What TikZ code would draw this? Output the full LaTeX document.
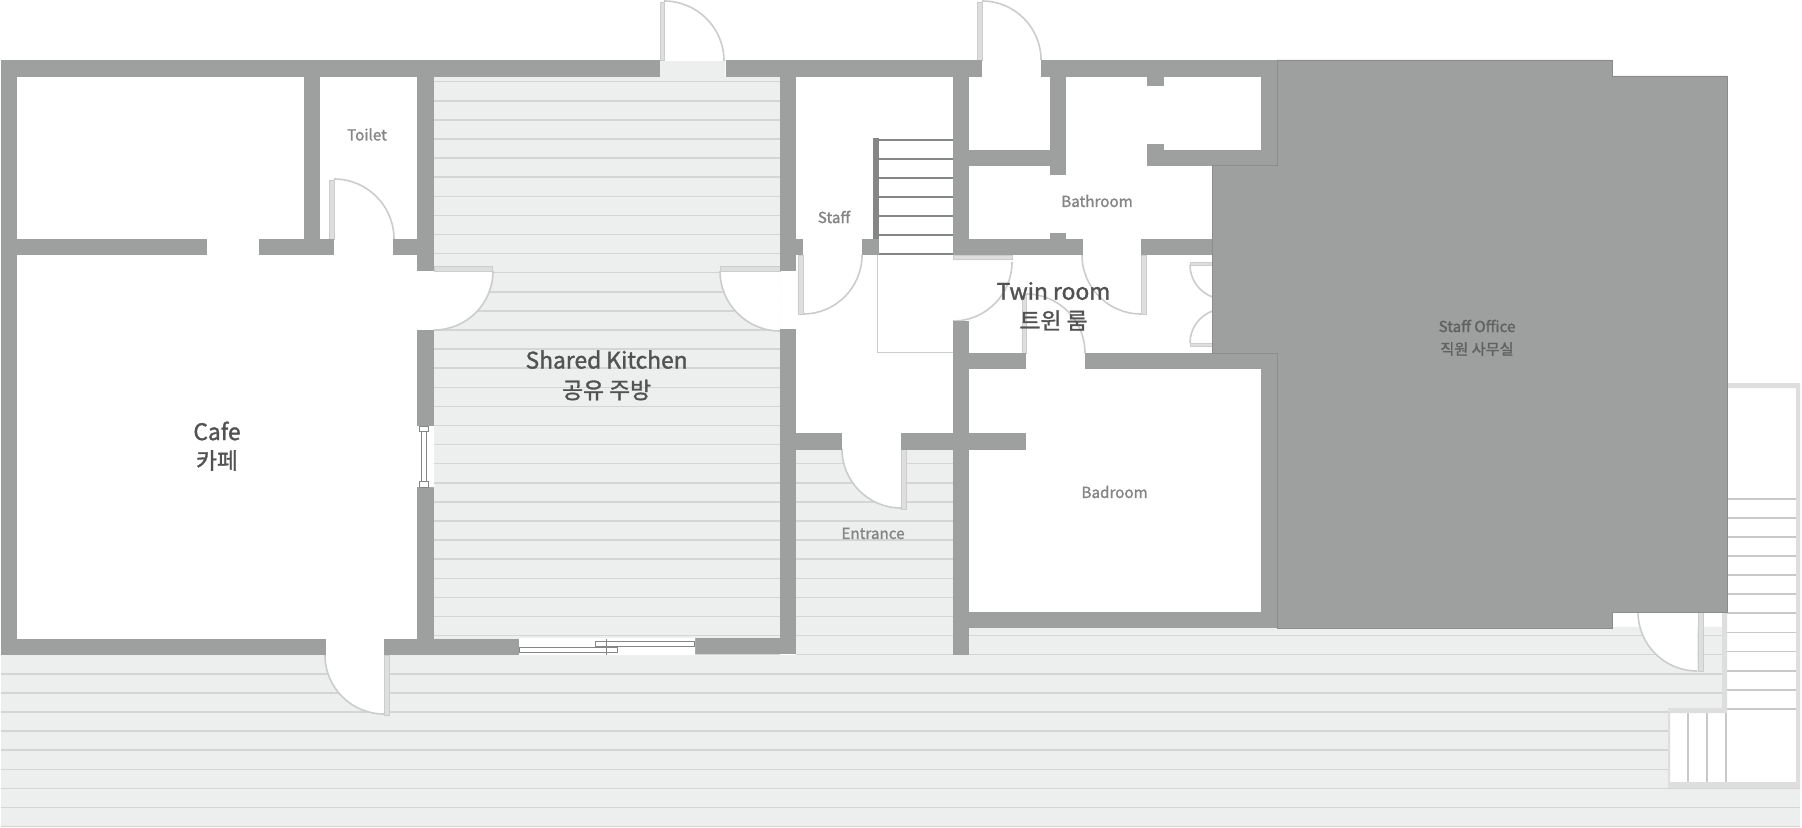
\documentclass[tikz,border=0pt]{standalone}
\usepackage{xcolor}
\usepackage{fontspec}
\setmainfont{Noto Sans CJK KR}[RawFeature={embolden=1.4}]
\definecolor{wallgray}{HTML}{9EA09F}
\definecolor{floorgray}{HTML}{EDEFEE}
\definecolor{plankgray}{HTML}{D4D6D5}
\definecolor{stairgray}{HTML}{C8CAC9}
\definecolor{leafgray}{HTML}{DDDEDD}
\definecolor{swinggray}{HTML}{CBCDCC}
\definecolor{treadgray}{HTML}{858786}
\begin{document}
\begin{tikzpicture}[x=0.5pt,y=0.5pt,yscale=-1]
	\tikzstyle{wall}=[fill=wallgray]
	\tikzstyle{leaf}=[fill=leafgray,draw=swinggray,line width=.2pt]
	\tikzstyle{swing}=[draw=swinggray,line width=.8pt]
	\tikzstyle{plank}=[draw=plankgray,line width=.75pt]
	\tikzstyle{stairline}=[draw=stairgray,line width=.9pt]
	\tikzstyle{tread}=[draw=treadgray,line width=1pt]
	\tikzstyle{frame}=[draw=treadgray,line width=.5pt,fill=white]
	\tikzstyle{biglabel}=[inner sep=0pt,text=black!68,font=\fontsize{11.4}{14}\selectfont]
	\tikzstyle{smalllabel}=[inner sep=0pt,text=black!48,font=\fontsize{7.6}{10}\selectfont]
	\useasboundingbox (0,0) rectangle (1802,828);
	\fill[white] (0,0) rectangle (1802,828);
	% decking
	\begin{scope}
		\clip (434,77) rectangle (780,655) (660,60) rectangle (725,77) (796,449) rectangle (953,655)
			(969,627) rectangle (1722,655) (1,655) rectangle (1722,708) (1,708) rectangle (1668,788) (1,788) rectangle (1800,827);
		\fill[floorgray] (0,0) rectangle (1802,828);
		\foreach \k in {0,...,39}
			\draw[plank] (0,81.7+19.1*\k) -- (1802,81.7+19.1*\k);
	\end{scope}
	% outside stairs
	\fill[white] (1670,713) rectangle (1796,782) (1727,388) rectangle (1796,782);
	\foreach \k in {0,...,11}
		\draw[stairline] (1722,498.7+19.1*\k) -- (1796,498.7+19.1*\k);
	\foreach \x in {1688,1707,1726}
		\draw[stairline] (\x,713) -- (\x,782);
	\fill[leafgray] (1727,383) rectangle (1800,388) (1796,383) rectangle (1800,788) (1668,782) rectangle (1800,788)
		(1668,708) rectangle (1727,713) (1668,708) rectangle (1670,788) (1722,612) rectangle (1727,713);
	% door swings
	\foreach \cx/\cy/\sa/\ea/\r in {664/61/-90/0/60,334/239/-90/0/60,434/271/0/90/59,780/271/90/180/60,803/255/0/90/59,
		953/262/0/90/59,1141/255/90/180/59,1026/353/-90/0/59,384/655/90/180/59,901/449/90/180/59,1697/612/90/180/59,
		982/60/-90/0/59,1224/265/180/110/34,1224/343/180/250/34} {
		\fill[white] (\cx,\cy) -- ++(\sa:\r) arc[start angle=\sa,end angle=\ea,radius=\r] -- cycle;
		\draw[swing] (\cx,\cy) ++(\sa:\r) arc[start angle=\sa,end angle=\ea,radius=\r];
	}
	\fill[white] (982,60) rectangle (1041,77);
	% door leaves
	\foreach \xa/\ya/\xb/\yb in {660/2/664/60,329/180/334/239,434/266/492/271,720/266/780/271,798/255/803/314,
		953/255/1012/259.5,1141/255/1146/314,1022/295/1026/353,384/655/389/715,901/449/906/509,1698/612/1703/671,
		977/2/982/60,1190/262/1212/265,1190/343/1212/346}
		\filldraw[leaf] (\xa,\ya) rectangle (\xb,\yb);
	% inside stairs
	\draw[draw=swinggray,line width=.5pt] (877.4,255) -- (877.4,352.7) -- (953,352.7);
	\fill[treadgray] (873,138) rectangle (879,239);
	\foreach \y in {140,158.7,177.7,196.7,216,235,254}
		\draw[tread] (879,\y) -- (953,\y);
	% walls
	\foreach \xa/\ya/\xb/\yb in {1/60/660/77,725.5/60/982/77,1040.6/60/1277/77,%top
		1/60/17/655,1/639/325.5/655,384/639/519/655,695/638/796/654,%outer
		304/77/320/239,17/239/207/255,259/239/334/255,393/239/417/255,%cafe and toilet
		417/60/434/271,417/330/434/426,417/487/434/655,%kitchen left
		780/60/796/271,780/329/796/654,796/239/803/255,862/239/879/255,%kitchen right
		953/60/969/255,953/321/969/655,969/150/1050/165.7,1050/77/1066/175,1050/233/1066/239,%bathroom
		969/239/1083/255,1141/239/1212/255,1147/77/1164/85.7,1147/144/1164/165.7,1164/150/1277/165.7,1261/77/1277/165.7,%
		969/353/1026/369,1085/353/1277/369,1261/353/1277/627.6,969/612/1277/627.6,%badroom
		796/433/842/449.5,901/433/1026/449.5}%entrance
		\fill[wall] (\xa,\ya) rectangle (\xb,\yb);
	\filldraw[wall,draw=black!45,line width=.25pt] (1277,60) -- (1612,60) -- (1612,76) -- (1727,76) -- (1727,612) -- (1612.7,612) -- (1612.7,628) -- (1277,628) -- (1277,353) -- (1212,353) -- (1212,165.7) -- (1277,165.7) -- cycle;
	% windows
	\fill[white] (519,638) rectangle (695,655) (417.5,426) rectangle (434,487);
	\filldraw[frame] (519,647.3) rectangle (617.7,652.3);
	\filldraw[frame] (595.3,641.3) rectangle (694.3,646.7);
	\draw[draw=treadgray,line width=.4pt] (606.7,639) -- (606.7,655);
	\filldraw[frame] (421.3,431) rectangle (426.3,482);
	\filldraw[frame] (419.3,426) rectangle (428.7,431);
	\filldraw[frame] (419.3,481.7) rectangle (428.7,487);
	% labels
	\node[smalllabel] (toilet) at (367,134.5) {Toilet};
	\node[smalllabel] (staff) at (834,217) {Staff};
	\node[smalllabel] (bathroom) at (1097,201) {Bathroom};
	\node[smalllabel] (badroom) at (1114.6,492) {Badroom};
	\node[smalllabel] (entrance) at (873,533.5) {Entrance};
	\node[smalllabel,text=black!62] (office) at (1477,326) {Staff Office};
	\node[smalllabel,text=black!62] (officekr) at (1477,349) {직원 사무실};
	\node[biglabel] (twin) at (1053.5,291) {Twin room};
	\node[biglabel] (twinkr) at (1053.5,320.5) {트윈 룸};
	\node[biglabel] (kitchen) at (606.6,359.6) {Shared Kitchen};
	\node[biglabel] (kitchenkr) at (606.6,390) {공유 주방};
	\node[biglabel] (cafe) at (217,431) {Cafe};
	\node[biglabel] (cafekr) at (217,460.5) {카페};
\end{tikzpicture}
\end{document}
